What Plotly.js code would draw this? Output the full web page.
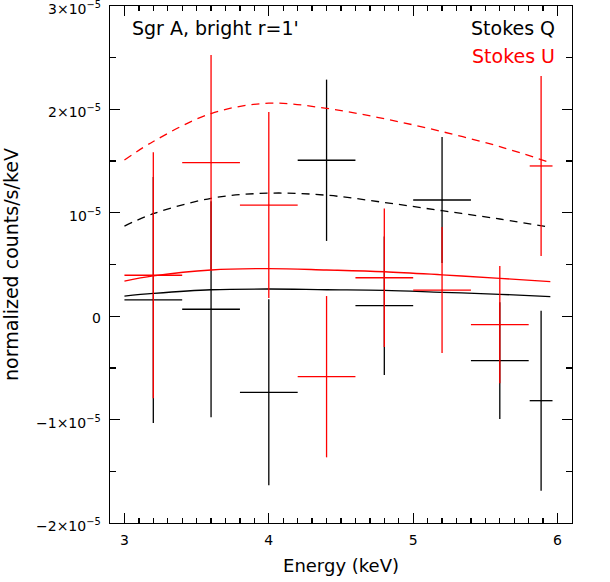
<!DOCTYPE html>
<html>
<head>
<meta charset="utf-8">
<script src="https://cdn.plot.ly/plotly-3.0.1.min.js"></script>
<style>
	html, body { margin: 0; padding: 0; background: #fff; }
	#plotlyStokes { width: 610px; height: 582px; }
</style>
</head>
<body>
<div id="plotlyStokes"></div>
<script>
// all y values are in units of 1e-5 counts/s/keV
const binCenters = [3.2, 3.6, 4.0, 4.4, 4.8, 5.2, 5.6, 5.886];
const binHalfWidths = [0.2, 0.2, 0.2, 0.2, 0.2, 0.2, 0.2, 0.079];

const stokesQ = [0.157, 0.067, -0.736, 1.508, 0.102, 1.124, -0.430, -0.817];
const stokesQErr = [1.19, 1.045, 0.90, 0.78, 0.67, 0.61, 0.564, 0.87];
const stokesU = [0.396, 1.485, 1.075, -0.585, 0.372, 0.253, -0.082, 1.453];
const stokesUErr = [1.19, 1.04, 0.90, 0.78, 0.67, 0.61, 0.567, 0.87];

// model curves
const modelEnergy = [3.0, 3.2, 3.6, 4.0, 4.4, 4.8, 5.2, 5.6, 5.95];
const qModelDashed = [0.872, 0.991, 1.14, 1.19, 1.17, 1.10, 1.02, 0.94, 0.86];
const uModelDashed = [1.51, 1.69, 1.96, 2.06, 2.01, 1.91, 1.785, 1.64, 1.485];
const qModelSolid = [0.195, 0.22, 0.256, 0.263, 0.256, 0.25, 0.231, 0.212, 0.189];
const uModelSolid = [0.34, 0.389, 0.447, 0.46, 0.447, 0.43, 0.40, 0.366, 0.334];

const yTickVals = [-2, -1, 0, 1, 2, 3];
const yTickText = ['\u22122\u00d710<sup>\u22125</sup>', '\u22121\u00d710<sup>\u22125</sup>', '0',
	'10<sup>\u22125</sup>', '2\u00d710<sup>\u22125</sup>', '3\u00d710<sup>\u22125</sup>'];

const FONT = 'DejaVu Sans, Arial, sans-serif';

function modelTrace(y, color, dash) {
	return {
		x: modelEnergy, y: y, type: 'scatter', mode: 'lines',
		line: { color: color, width: 1.3, dash: dash, shape: 'spline' },
		hoverinfo: 'skip', showlegend: false
	};
}

function dataTrace(y, err, color) {
	return {
		x: binCenters, y: y, type: 'scatter', mode: 'markers',
		marker: { size: 1, color: color },
		error_x: { type: 'data', array: binHalfWidths, visible: true, color: color, thickness: 1.3, width: 0 },
		error_y: { type: 'data', array: err, visible: true, color: color, thickness: 1.3, width: 0 },
		showlegend: false
	};
}

let data = [
	modelTrace(qModelDashed, '#000000', '8px,6px'),
	modelTrace(qModelSolid, '#000000', 'solid'),
	dataTrace(stokesQ, stokesQErr, '#000000'),
	modelTrace(uModelDashed, '#ff0000', '8px,6px'),
	modelTrace(uModelSolid, '#ff0000', 'solid'),
	dataTrace(stokesU, stokesUErr, '#ff0000')
];

let axisCommon = {
	showline: true, linecolor: '#000000', linewidth: 1.3, mirror: 'ticks',
	ticks: 'inside', ticklen: 10, tickwidth: 1.3, tickcolor: '#000000',
	showgrid: false, zeroline: false,
	tickfont: { family: FONT, size: 14, color: '#000000' }
};

// y tick labels as annotations so the top one is not cut by the page edge
let annotations = yTickVals.map((v, i) => ({
	text: yTickText[i], xref: 'paper', yref: 'y', x: 0, y: v,
	xanchor: 'right', yanchor: 'middle', xshift: -7, yshift: -2, showarrow: false,
	font: { family: FONT, size: 14, color: '#000000' }
}));

annotations.push(
	{ text: "Sgr A, bright r=1'", xref: 'paper', yref: 'paper', x: 0.043, y: 0.957,
		xanchor: 'left', yanchor: 'middle', showarrow: false, font: { family: FONT, size: 19, color: '#000000' } },
	{ text: 'Stokes Q', xref: 'paper', yref: 'paper', x: 0.968, y: 0.957,
		xanchor: 'right', yanchor: 'middle', showarrow: false, font: { family: FONT, size: 19, color: '#000000' } },
	{ text: 'Stokes U', xref: 'paper', yref: 'paper', x: 0.968, y: 0.903,
		xanchor: 'right', yanchor: 'middle', showarrow: false, font: { family: FONT, size: 19, color: '#ff0000' } }
);

var layout = {
	width: 610, height: 582,
	margin: { l: 110, r: 38, t: 6, b: 59 },
	paper_bgcolor: '#ffffff', plot_bgcolor: '#ffffff',
	font: { family: FONT, color: '#000000' },
	xaxis: Object.assign({}, axisCommon, {
		range: [2.9, 6.1], tickvals: [3, 4, 5, 6], ticklabelstandoff: 4,
		minor: { dtick: 0.1, tick0: 3, ticks: 'inside', ticklen: 5, tickwidth: 1.3, tickcolor: '#000000' },
		title: { text: 'Energy (keV)', font: { family: FONT, size: 18 }, standoff: 12 }
	}),
	yaxis: Object.assign({}, axisCommon, {
		range: [-2, 3], tickvals: yTickVals, showticklabels: false,
		minor: { dtick: 0.5, tick0: 0, ticks: 'inside', ticklen: 6, tickwidth: 1.3, tickcolor: '#000000' },
		title: { text: 'normalized counts/s/keV', font: { family: FONT, size: 19 }, standoff: 85 }
	}),
	annotations: annotations
};

Plotly.newPlot('plotlyStokes', data, layout, { displayModeBar: false, staticPlot: true });
</script>
</body>
</html>
